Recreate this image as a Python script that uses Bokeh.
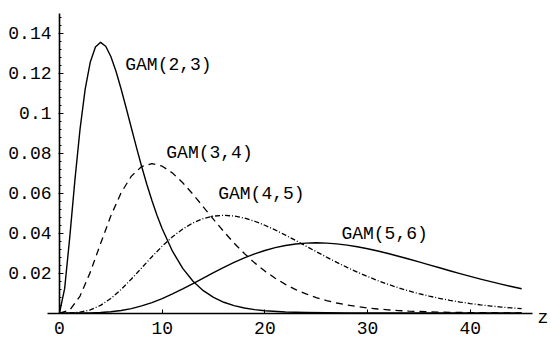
from bokeh.plotting import figure
from bokeh.models import Range1d, LinearAxis, FixedTicker, Label
from bokeh.embed import file_html
from bokeh.resources import INLINE

# ---- data ----
x1 = [0, 0.5, 1, 1.5, 2, 2.5, 3, 3.5, 4, 4.5, 5, 5.5, 6, 6.5, 7, 7.5, 8, 8.5, 9, 9.5,
      10, 11, 12, 13, 14, 15, 16, 17, 18, 19, 20, 22, 24, 26, 28, 30, 35, 40, 45]
gam23 = [0, 0.01217, 0.03791, 0.06643, 0.09197, 0.11191, 0.12551, 0.13304, 0.13534, 0.13340,
         0.12826, 0.12086, 0.11202, 0.10239, 0.09248, 0.08268, 0.07326, 0.06441, 0.05624, 0.04880,
         0.04211, 0.03091, 0.02231, 0.01588, 0.01117, 0.00778, 0.00537, 0.00368, 0.00250, 0.00169,
         0.00113, 0.00051, 0.00022, 0.00010, 0.00004, 0.00002, 0, 0, 0]

x2 = list(range(0, 46))
gam34 = [0, 0.001474, 0.008451, 0.020438, 0.034713, 0.048580, 0.060150, 0.068439, 0.073200, 0.074681,
         0.073403, 0.070004, 0.065123, 0.059327, 0.053094, 0.046791, 0.040690, 0.034970, 0.029745, 0.025066,
         0.020948, 0.017376, 0.014315, 0.011721, 0.009542, 0.007728, 0.006229, 0.004998, 0.003994, 0.003180,
         0.002522, 0.001994, 0.001572, 0.001235, 0.000968, 0.000756, 0.000590, 0.000459, 0.000356, 0.000276,
         0.000213, 0.000165, 0.000127, 0.0000975, 0.0000748, 0.0000574]
gam45 = [0, 0.0000317, 0.000395, 0.001557, 0.003832, 0.007286, 0.011767, 0.016977, 0.022556, 0.028138,
         0.033401, 0.038085, 0.042008, 0.045061, 0.047202, 0.048446, 0.048843, 0.048476, 0.047452, 0.045877,
         0.043866, 0.041525, 0.038955, 0.036242, 0.033464, 0.030684, 0.027955, 0.025320, 0.022806, 0.020438,
         0.018229, 0.016186, 0.014313, 0.012607, 0.011064, 0.009676, 0.008434, 0.007329, 0.006351, 0.005488,
         0.004729, 0.004065, 0.003486, 0.002983, 0.002547, 0.002170]
gam56 = [0, 0.00000044, 0.0000114, 0.0000711, 0.000245, 0.000613, 0.001249, 0.002210, 0.003528, 0.005206,
         0.007218, 0.009517, 0.012039, 0.014708, 0.017443, 0.020164, 0.022796, 0.025272, 0.027536, 0.029543,
         0.031259, 0.032664, 0.033745, 0.034506, 0.034949, 0.035093, 0.034957, 0.034564, 0.033942, 0.033119,
         0.032125, 0.030987, 0.029735, 0.028395, 0.026990, 0.025543, 0.024077, 0.022606, 0.021148, 0.019716,
         0.018321, 0.016971, 0.015674, 0.014435, 0.013258, 0.012145]

series_names = ["GAM(2,3)", "GAM(3,4)", "GAM(4,5)", "GAM(5,6)"]
label_x = [6.4, 10.4, 15.45, 27.45]
label_y = [0.1240, 0.0798, 0.0593, 0.0394]

x_ticks = [0, 10, 20, 30, 40]
x_tick_labels = ["0", "10", "20", "30", "40"]
y_ticks = [0.02, 0.04, 0.06, 0.08, 0.1, 0.12, 0.14]
y_tick_labels = ["0.02", "0.04", "0.06", "0.08", "0.1", "0.12", "0.14"]
y_minor = [i * 0.004 for i in range(0, 38)]
axis_title = "z"

FONT = "Liberation Mono"

p = figure(width=551, height=342, output_backend="svg", toolbar_location=None,
           x_range=Range1d(-5.745, 47.907), y_range=Range1d(-0.01475, 0.15625),
           x_axis_type=None, y_axis_type=None, min_border=0)
p.outline_line_color = None
p.background_fill_color = "white"
p.border_fill_color = "white"

xaxis = LinearAxis(fixed_location=0, bounds=(-1.2, 46.1),
                   ticker=FixedTicker(ticks=x_ticks, minor_ticks=[]),
                   major_label_overrides={t: l for t, l in zip(x_ticks, x_tick_labels)})
xaxis.axis_line_width = 1.6
xaxis.major_tick_in = 4
xaxis.major_tick_out = 0
xaxis.minor_tick_in = 0
xaxis.minor_tick_out = 0
xaxis.major_label_standoff = 9
xaxis.major_label_text_font = FONT
xaxis.major_label_text_font_size = "18px"
xaxis.major_label_text_color = "black"
p.add_layout(xaxis, "below")

yaxis = LinearAxis(fixed_location=0, bounds=(0, 0.15),
                   ticker=FixedTicker(ticks=y_ticks, minor_ticks=y_minor),
                   major_label_overrides={t: l for t, l in zip(y_ticks, y_tick_labels)})
yaxis.axis_line_width = 1.6
yaxis.major_tick_in = 4
yaxis.major_tick_out = 1
yaxis.minor_tick_in = 2
yaxis.minor_tick_out = 0
yaxis.major_label_standoff = 7
yaxis.major_label_text_font = FONT
yaxis.major_label_text_font_size = "18px"
yaxis.major_label_text_color = "black"
p.add_layout(yaxis, "left")

p.line(x1, gam23, line_color="black", line_width=1.4, line_join="round")
p.line(x2, gam34, line_color="black", line_width=1.3, line_dash="7 5")
p.line(x2, gam45, line_color="black", line_width=1.3, line_dash="5 2 1 2")
p.line(x2, gam56, line_color="black", line_width=1.4, line_join="round")

for name, lx, ly in zip(series_names, label_x, label_y):
    p.add_layout(Label(x=lx, y=ly, text=name, text_font=FONT, text_font_size="18px",
                       text_baseline="middle", text_align="left", text_color="black"))

p.add_layout(Label(x=46.55, y=-0.00225, text=axis_title, text_font=FONT, text_font_size="18px",
                   text_baseline="alphabetic", text_align="left", text_color="black"))

open("out.html", "w").write(file_html(p, INLINE))
